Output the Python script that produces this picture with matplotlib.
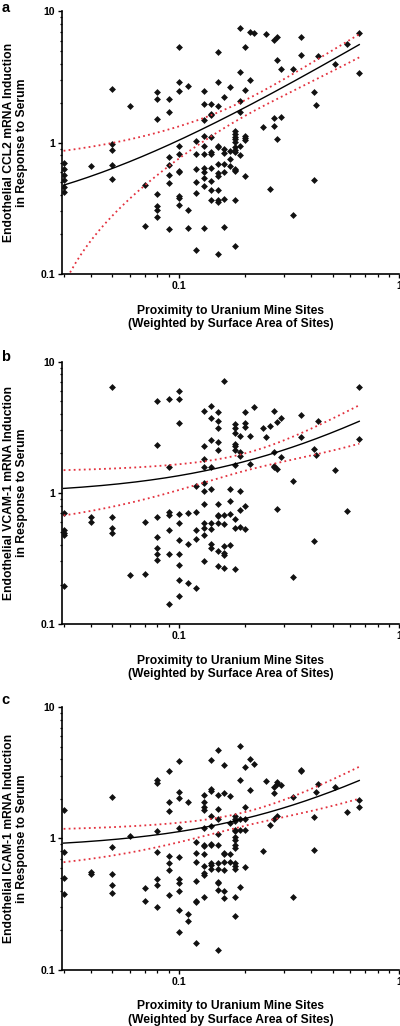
import numpy as np
import matplotlib
matplotlib.use("Agg")
import matplotlib.pyplot as plt
from matplotlib.ticker import LogLocator, FixedLocator, FixedFormatter, NullFormatter

plt.rcParams['font.family'] = ['Liberation Sans', 'DejaVu Sans']
plt.rcParams['font.weight'] = 'bold'

# ---------------- Data ----------------
# Panel a: CCL2
ccl2_x = [0.03]*6 + [0.04] + [0.05]*5 + [0.06] + [0.07]*2 + [0.08]*7 + [0.09]*7 + [0.10]*10 \
    + [0.11]*3 + [0.12]*6 + [0.13]*11 + [0.14]*10 + [0.15]*12 + [0.16]*7 + [0.17]*4 + [0.18]*13 \
    + [0.19]*6 + [0.20]*6 + [0.21]*2 + [0.22, 0.24, 0.25, 0.26] + [0.27]*3 + [0.28]*3 + [0.29]*2 \
    + [0.33]*2 + [0.36]*2 + [0.41]*2 + [0.42, 0.43, 0.51, 0.58] + [0.66]*2
ccl2_y = [0.70, 0.63, 0.57, 0.52, 0.46, 0.42,
          0.66,
          2.55, 0.98, 0.88, 0.68, 0.53,
          1.91,
          0.48, 0.23,
          2.44, 2.16, 1.51, 0.41, 0.33, 0.305, 0.27,
          2.15, 1.70, 0.785, 0.68, 0.57, 0.49, 0.22,
          5.41, 2.91, 2.48, 0.946, 0.82, 0.607, 0.60, 0.39, 0.38, 0.334,
          2.70, 0.307, 0.224,
          1.03, 0.82, 0.628, 0.506, 0.412, 0.152,
          2.47, 1.98, 1.48, 1.13, 0.95, 0.82, 0.64, 0.593, 0.542, 0.466, 0.224,
          1.97, 1.65, 1.62, 1.10, 0.857, 0.82, 0.64, 0.515, 0.434, 0.365,
          4.95, 2.91, 1.91, 0.95, 0.93, 0.69, 0.585, 0.56, 0.434, 0.365, 0.352, 0.142,
          2.24, 0.898, 0.83, 0.69, 0.60, 0.373, 0.226,
          2.65, 0.86, 0.753, 0.66,
          1.23, 1.17, 1.11, 1.06, 1.01, 0.93, 0.887, 0.857, 0.628, 0.614, 0.367, 0.164, 0.62,
          7.46, 3.43, 2.08, 1.71, 0.95, 0.81,
          5.41, 2.51, 1.13, 1.08, 1.04, 0.56,
          7.0, 2.99,
          6.84, 1.32, 6.72, 0.445,
          6.08, 1.55, 1.35,
          6.34, 4.26, 1.06,
          3.63, 1.56,
          3.63, 0.28,
          6.34, 4.67,
          2.45, 0.52,
          1.94, 4.54, 3.96, 5.67,
          6.80, 3.39]

# Panel b: VCAM-1
vcam_x = [0.03]*5 + [0.04]*2 + [0.05]*4 + [0.06] + [0.07]*2 + [0.08]*7 + [0.09]*7 + [0.10]*10 \
    + [0.11]*3 + [0.12]*5 + [0.13]*11 + [0.14]*9 + [0.15]*11 + [0.16]*7 + [0.17]*4 + [0.18]*10 \
    + [0.19]*6 + [0.20]*5 + [0.21]*2 + [0.22, 0.24, 0.25, 0.26] + [0.27]*4 + [0.28]*3 + [0.29]*2 \
    + [0.33]*2 + [0.36]*2 + [0.41]*2 + [0.42, 0.43, 0.51, 0.58] + [0.66]*2
vcam_y = [0.70, 0.518, 0.497, 0.474, 0.194,
          0.653, 0.599,
          6.35, 0.65, 0.542, 0.494,
          0.238,
          0.602, 0.24,
          5.03, 2.32, 0.65, 0.46, 0.382, 0.344, 0.31,
          5.18, 1.57, 0.713, 0.68, 0.524, 0.342, 0.142,
          5.92, 5.18, 3.42, 0.688, 0.592, 0.435, 0.344, 0.284, 0.218, 0.163,
          0.70, 0.405, 0.206,
          1.12, 0.717, 0.524, 0.443, 0.189,
          4.2, 2.28, 1.81, 1.57, 1.18, 1.04, 0.82, 0.585, 0.539, 0.48, 0.30,
          4.55, 3.69, 2.53, 1.58, 1.07, 0.585, 0.53, 0.408, 0.38,
          4.15, 3.52, 3.10, 2.45, 2.12, 0.82, 0.68, 0.665, 0.585, 0.363, 0.277,
          7.13, 0.673, 0.582, 0.394, 0.35, 0.338, 0.268,
          1.07, 0.87, 0.688, 0.403,
          3.34, 3.10, 2.86, 2.36, 2.26, 2.11, 1.62, 0.627, 0.542, 0.263,
          2.72, 2.04, 1.92, 1.04, 0.743, 0.548,
          4.12, 3.42, 3.19, 0.797, 0.533,
          2.70, 1.66,
          4.47, 3.13, 2.65, 3.21,
          4.22, 2.06, 1.60, 1.56,
          3.44, 1.51, 0.755,
          3.71, 1.89,
          1.24, 0.229,
          3.89, 2.65,
          2.16, 0.427,
          1.93, 3.50, 1.48, 0.73,
          6.35, 2.56]

# Panel c: ICAM-1
icam_x = [0.03]*4 + [0.04]*2 + [0.05]*5 + [0.06] + [0.07]*2 + [0.08]*7 + [0.09]*7 + [0.10]*10 \
    + [0.11]*3 + [0.12]*7 + [0.13]*12 + [0.14]*10 + [0.15]*12 + [0.16]*8 + [0.17]*4 + [0.18]*14 \
    + [0.19]*5 + [0.20]*5 + [0.21]*2 + [0.22, 0.24, 0.25, 0.26] + [0.27]*3 + [0.28]*3 + [0.29] \
    + [0.33]*2 + [0.36]*2 + [0.41]*2 + [0.42, 0.43, 0.51, 0.58] + [0.66]*2
icam_y = [1.66, 0.787, 0.498, 0.376,
          0.553, 0.534,
          2.07, 0.859, 0.537, 0.44, 0.383,
          1.05,
          0.42, 0.336,
          2.81, 2.66, 1.13, 0.787, 0.495, 0.438, 0.30,
          3.29, 1.88, 1.61, 0.729, 0.649, 0.577, 0.372,
          3.87, 2.26, 2.03, 1.21, 0.725, 0.495, 0.456, 0.399, 0.285, 0.193,
          1.91, 0.264, 0.235,
          0.937, 0.773, 0.667, 0.47, 0.333, 0.33, 0.159,
          2.13, 1.88, 1.75, 1.64, 1.20, 0.885, 0.87, 0.764, 0.622, 0.55, 0.528, 0.361,
          3.96, 2.38, 2.30, 1.47, 1.24, 0.91, 0.89, 0.649, 0.63, 0.59,
          4.70, 2.13, 1.67, 1.41, 1.09, 0.885, 0.649, 0.58, 0.467, 0.46, 0.408, 0.141,
          3.6, 2.22, 0.773, 0.765, 0.66, 0.577, 0.398, 0.352,
          2.12, 1.31, 0.765, 0.66,
          1.47, 1.41, 1.35, 1.16, 1.13, 1.02, 0.977, 0.885, 0.844, 0.649, 0.618, 0.59, 0.361, 0.257,
          5.10, 2.77, 1.41, 1.15, 0.43,
          3.48, 1.73, 1.41, 1.15, 0.611,
          4.03, 2.32,
          3.72, 0.796, 2.76, 1.26,
          2.47, 2.22, 1.41,
          2.69, 2.60, 1.48,
          2.57,
          2.07, 0.357,
          3.30, 3.27,
          1.45, 0.819,
          2.26, 2.61, 2.45, 1.58,
          1.97, 1.75]

ylabels = ["Endothelial CCL2 mRNA Induction\nin Response to Serum",
           "Endothelial VCAM-1 mRNA Induction\nin Response to Serum",
           "Endothelial ICAM-1 mRNA Induction\nin Response to Serum"]
panel_letters = ["a", "b", "c"]
xlabel = "Proximity to Uranium Mine Sites\n(Weighted by Surface Area of Sites)"
xtick_vals = [0.1, 1]
xtick_labels = ["0.1", "1"]
ytick_vals = [0.1, 1, 10]
ytick_labels = ["0.1", "1", "10"]

datasets = [(ccl2_x, ccl2_y), (vcam_x, vcam_y), (icam_x, icam_y)]

# ---------------- Figure ----------------
fig = plt.figure(figsize=(4.0, 10.26), dpi=100)
bottoms = [0.733, 0.3918, 0.0549]
letter_y = [0.999, 0.659, 0.3246]
red = '#e3313e'

for i, (xs, ys) in enumerate(datasets):
    ax = fig.add_axes([0.155, bottoms[i], 0.8425, 0.2558])
    xs = np.asarray(xs, float)
    ys = np.asarray(ys, float)
    ax.set_xscale('log')
    ax.set_yscale('log')
    ax.set_xlim(0.0295, 1.0)
    ax.set_ylim(0.1, 10)

    ax.plot(xs, ys, linestyle='none', marker='D', markersize=3.5,
            color='#111111', markeredgewidth=0, zorder=3)

    # linear regression with 95% confidence band
    n = len(xs)
    b, a = np.polyfit(xs, ys, 1)
    resid = ys - (a + b * xs)
    s = np.sqrt(np.sum(resid ** 2) / (n - 2))
    xm = xs.mean()
    sxx = np.sum((xs - xm) ** 2)
    t = 1.976
    xg = np.linspace(xs.min(), xs.max(), 300)
    yh = a + b * xg
    hw = t * s * np.sqrt(1.0 / n + (xg - xm) ** 2 / sxx)
    ax.plot(xg, yh, color='black', lw=1.0, zorder=4)
    up = yh + hw
    lo = yh - hw
    ax.plot(xg, up, color=red, lw=1.3, linestyle=(0, (1, 1.8)), zorder=4)
    mlo = lo > 0.1
    ax.plot(xg[mlo], lo[mlo], color=red, lw=1.3, linestyle=(0, (1, 1.8)), zorder=4)

    for sp in ['top', 'right']:
        ax.spines[sp].set_visible(False)
    for sp in ['left', 'bottom']:
        ax.spines[sp].set_linewidth(1.2)

    ax.xaxis.set_major_locator(FixedLocator(xtick_vals))
    ax.xaxis.set_major_formatter(FixedFormatter(xtick_labels))
    ax.yaxis.set_major_locator(FixedLocator(ytick_vals))
    ax.yaxis.set_major_formatter(FixedFormatter(ytick_labels))
    ax.xaxis.set_minor_locator(LogLocator(base=10, subs=np.arange(2, 10)))
    ax.yaxis.set_minor_locator(LogLocator(base=10, subs=np.arange(2, 10)))
    ax.xaxis.set_minor_formatter(NullFormatter())
    ax.yaxis.set_minor_formatter(NullFormatter())
    ax.tick_params(which='major', length=3.2, width=1.0, pad=2, labelsize=7.6)
    ax.tick_params(which='minor', length=1.8, width=0.9)
    for lab in ax.get_xticklabels() + ax.get_yticklabels():
        lab.set_fontweight('bold')

    ax.set_xlabel(xlabel, fontsize=8.7, fontweight='bold', linespacing=1.15)
    ax.xaxis.label.set_va('center')
    ax.xaxis.set_label_coords(0.5, -0.165)
    ax.set_ylabel(ylabels[i], fontsize=8.7, fontweight='bold', linespacing=1.15)
    ax.yaxis.label.set_va('center')
    ax.yaxis.set_label_coords(-0.138, 0.5)

    fig.text(0.003, letter_y[i], panel_letters[i], fontsize=10.5,
             fontweight='bold', va='top', ha='left')

fig.savefig('out.png', dpi=100)
